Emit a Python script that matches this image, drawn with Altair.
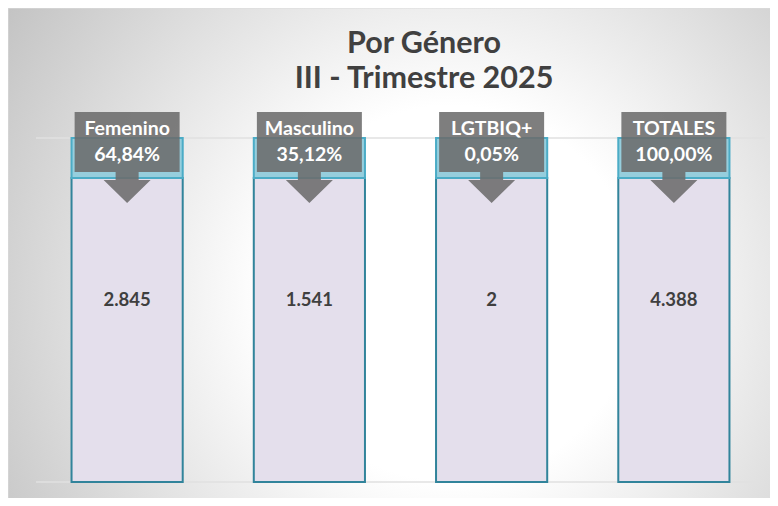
import altair as alt
import pandas as pd

# ---- data ----
categories = ["Femenino", "Masculino", "LGTBIQ+", "TOTALES"]
counts = [2845, 1541, 2, 4388]
percents = [64.84, 35.12, 0.05, 100.00]
title_lines = ["Por Género", "III - Trimestre 2025"]
grid_values = [0, 100]


def fmt_count(v):
    return f"{v:,}".replace(",", ".")


def fmt_pct(p):
    return f"{p:.2f}".replace(".", ",") + "%"


df = pd.DataFrame({
    "cat": categories,
    "count": counts,
    "pct": percents,
    "count_lbl": [fmt_count(v) for v in counts],
    "pct_lbl": [fmt_pct(p) for p in percents],
})
grid_df = pd.DataFrame({"v": grid_values})
one_row = alt.Data(values=[{}])

# ---- layout / style ----
W, H = 729, 344
FONT = "Lato"
Y_BAND = 88.37      # top of lavender body / bottom of blue band
Y_CALLOUT = 90.12   # bottom of the grey callout box
Y_LABEL = 100.87
Y_PCT = 93.31
Y_COUNT = 52.9

y_scale = alt.Scale(domain=[0, 100], nice=False, zero=False)
x_enc = alt.X("cat:N", sort=categories,
              scale=alt.Scale(paddingInner=0.39, paddingOuter=0.195),
              axis=None)


def yd(v):
    return alt.YDatum(v, type="quantitative", scale=y_scale, axis=None)


background = alt.Chart(one_row).mark_rect(
    fill=alt.RadialGradient(
        gradient="radial",
        stops=[
            alt.GradientStop(offset=0, color="#ffffff"),
            alt.GradientStop(offset=0.31, color="#ffffff"),
            alt.GradientStop(offset=1, color="#b6b6b6"),
        ],
        x1=0.577, y1=0.546, r1=0, x2=0.577, y2=0.546, r2=0.787,
    ),
    stroke="#dcdcdc", strokeWidth=1,
).encode(x=alt.value(-28), x2=alt.value(740), y=alt.value(-130), y2=alt.value(370))

grid = alt.Chart(grid_df).mark_rule(color="#e0e0e0", strokeWidth=1.5).encode(
    y=alt.Y("v:Q", scale=y_scale, axis=None)
)

body = alt.Chart(df).mark_bar(fill="#e4dfec", stroke="#31849b", strokeWidth=2).encode(
    x=x_enc, y=yd(0), y2=alt.datum(Y_BAND)
)

band = alt.Chart(df).mark_bar(fill="#96cedd", stroke="#4bacc6", strokeWidth=2).encode(
    x=x_enc, y=yd(Y_BAND), y2=alt.datum(100)
)

callout_path = ("M-1,-1.143L1,-1.143L1,0L0.219,0L0.219,0.152L0.448,0.152"
                "L0,0.59L-0.448,0.152L-0.219,0.152L-0.219,0L-1,0Z")
callout = alt.Chart(df).mark_point(
    shape=callout_path, size=105 ** 2, filled=True, color="#6c6c6c",
    opacity=0.88, strokeWidth=0,
).encode(x=x_enc, y=yd(Y_CALLOUT))

label = alt.Chart(df).mark_text(
    font=FONT, fontWeight="bold", fontSize=19.5, color="#ffffff", baseline="alphabetic"
).encode(x=x_enc, y=yd(Y_LABEL), text="cat:N")

pct = alt.Chart(df).mark_text(
    font=FONT, fontWeight="bold", fontSize=19.5, color="#ffffff", baseline="alphabetic"
).encode(x=x_enc, y=yd(Y_PCT), text="pct_lbl:N")

cnt = alt.Chart(df).mark_text(
    font=FONT, fontWeight="bold", fontSize=18.5, color="#3f3f3f", baseline="middle"
).encode(x=x_enc, y=yd(Y_COUNT), text="count_lbl:N")

title = alt.Chart(one_row).mark_text(
    text=title_lines, font=FONT, fontWeight="bold", fontSize=30.5, color="#404040",
    baseline="alphabetic", align="center", lineHeight=35,
).encode(x=alt.value(388), y=alt.value(-85))

chart = alt.layer(
    background, grid, body, band, callout, label, pct, cnt, title
).properties(
    width=W, height=H,
    autosize=alt.AutoSizeParams(type="none"),
    padding={"left": 28, "top": 130, "right": 5, "bottom": 16},
).configure_view(stroke=None)

chart.save("out.html", embed_options={"renderer": "svg", "actions": False})
